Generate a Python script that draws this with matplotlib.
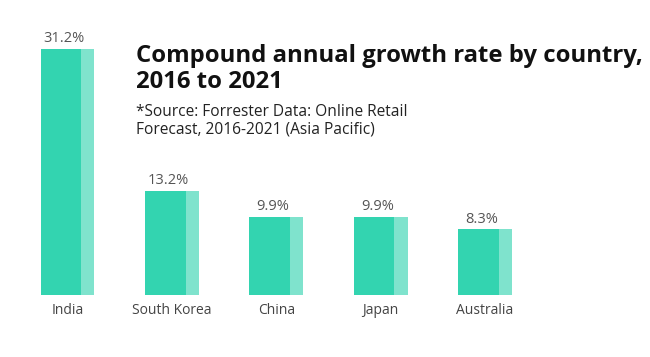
import numpy as np
import matplotlib.pyplot as plt

plt.rcParams["font.family"] = ["Open Sans", "DejaVu Sans"]

countries = ["India", "South Korea", "China", "Japan", "Australia"]
cagr = [31.2, 13.2, 9.9, 9.9, 8.3]

DARK = "#33d4b0"
LIGHT = "#7fe3cd"

fig = plt.figure(figsize=(6.5, 3.57), dpi=100)
# axes placed in pixels: bar baseline at y=295 px from top, ~7.9 px per unit
W, H = 650, 357
base_px = 295
ppu = 7.9
ytop = 32
ax = fig.add_axes([0, (H - base_px) / H, 1, ytop * ppu / H])

x = np.arange(len(countries))
bw = 0.517
dark_w = 0.39
ax.bar(x - bw / 2, cagr, width=dark_w, align="edge", color=DARK, linewidth=0)
ax.bar(x - bw / 2 + dark_w, cagr, width=bw - dark_w, align="edge", color=LIGHT, linewidth=0)

for xi, v in zip(x, cagr):
    ax.annotate(f"{v}%", (xi - 0.03, v), xytext=(0, 2), textcoords="offset points",
                ha="center", va="bottom", fontsize=10.5, color="#555555")

# x scale: India centre at 67.5 px, Australia at 485 px
ppx = (485 - 67.5) / 4
ax.set_xlim(-67.5 / ppx, (W - 67.5) / ppx)
ax.set_ylim(0, ytop)
ax.set_xticks(x, countries)
ax.tick_params(axis="x", length=0, pad=6, labelsize=10, labelcolor="#444444")
ax.set_yticks([])
for s in ax.spines.values():
    s.set_visible(False)
ax.patch.set_alpha(0)

fig.text(136 / W, 1 - 62 / H, "Compound annual growth rate by country,",
         fontsize=17.2, fontweight="bold", color="#111111", ha="left", va="baseline")
fig.text(136 / W, 1 - 88 / H, "2016 to 2021",
         fontsize=17.2, fontweight="bold", color="#111111", ha="left", va="baseline")
fig.text(136 / W, 1 - 116 / H, "*Source: Forrester Data: Online Retail",
         fontsize=11.2, color="#222222", ha="left", va="baseline")
fig.text(136 / W, 1 - 133 / H, "Forecast, 2016-2021 (Asia Pacific)",
         fontsize=11.2, color="#222222", ha="left", va="baseline")

fig.savefig("out.png", dpi=100, facecolor="white")
